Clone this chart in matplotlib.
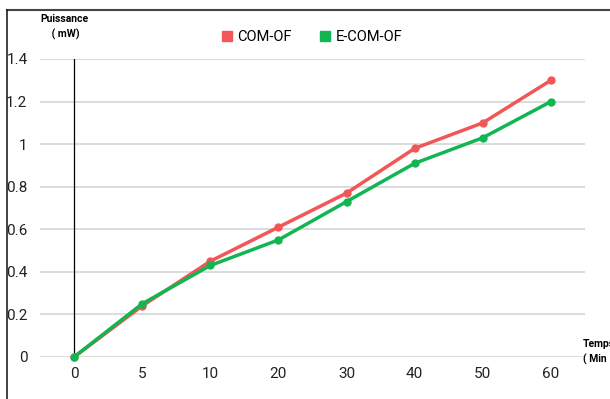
import numpy as np
import matplotlib.pyplot as plt
from matplotlib.lines import Line2D

# Données : temps (min) et puissance (mW)
temps = ['0', '5', '10', '20', '30', '40', '50', '60']
com_of = [0, 0.24, 0.45, 0.61, 0.77, 0.98, 1.10, 1.30]
e_com_of = [0, 0.25, 0.43, 0.55, 0.73, 0.91, 1.03, 1.20]

rouge = '#f25757'
vert = '#12b552'

plt.rcParams['font.family'] = ['Roboto', 'DejaVu Sans']

fig = plt.figure(figsize=(6.1, 3.99), dpi=100)
ax = fig.add_axes([40 / 610, 1 - 357 / 399, 545 / 610, 298 / 399])

x = np.arange(len(temps))
ax.plot(x, com_of, color=rouge, lw=2.5, marker='o', ms=5, clip_on=False, zorder=3)
ax.plot(x, e_com_of, color=vert, lw=2.5, marker='o', ms=5, clip_on=False, zorder=4)

ax.set_xlim(-0.5, len(temps) - 0.5)
ax.set_ylim(0, 1.4)
ax.set_xticks(x)
ax.set_xticklabels(temps)
ax.set_yticks([0, 0.2, 0.4, 0.6, 0.8, 1, 1.2, 1.4])
ax.set_yticklabels(['0', '0.2', '0.4', '0.6', '0.8', '1', '1.2', '1.4'])
ax.tick_params(length=0, labelsize=11, colors='#222222')
ax.tick_params(axis='y', pad=9)
ax.tick_params(axis='x', pad=7)
ax.grid(axis='y', color='#d9d9d9', lw=1.3)
ax.set_axisbelow(True)
for s in ax.spines.values():
    s.set_visible(False)

# axe vertical à t = 0
ax.plot([0, 0], [0, 1.4], color='black', lw=0.9, zorder=2)

# légende en haut
handles = [Line2D([], [], ls='', marker='s', ms=7, color=rouge),
           Line2D([], [], ls='', marker='s', ms=7, color=vert)]
fig.legend(handles, ['COM-OF', 'E-COM-OF'], loc='center', bbox_to_anchor=(311 / 610, 1 - 37 / 399),
           ncol=2, frameon=False, fontsize=10.5, handletextpad=0.2, columnspacing=1.8,
           handlelength=1)

# titres des axes
fig.text(64 / 610, 1 - 27 / 399, 'Puissance\n ( mW)', fontsize=7.5, fontweight='bold',
         ha='center', va='center', linespacing=1.5)
fig.text(583 / 610, 1 - 352 / 399, 'Temps\n( Min', fontsize=7.5, fontweight='bold',
         ha='left', va='center', linespacing=1.5)

# cadre
fig.add_artist(Line2D([7 / 610, 1], [1 - 9.5 / 399, 1 - 9.5 / 399], color='#444444', lw=1.5))
fig.add_artist(Line2D([7 / 610, 7 / 610], [0, 1 - 9.5 / 399], color='#222222', lw=1.2))

fig.savefig('out.png', dpi=100)
